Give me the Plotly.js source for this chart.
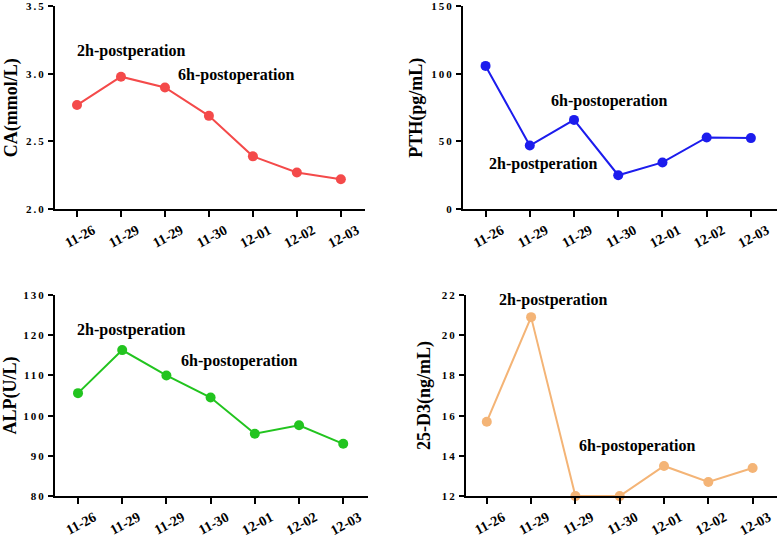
<!DOCTYPE html>
<html>
<head>
<meta charset="utf-8">
<script src="https://cdn.plot.ly/plotly-3.0.1.min.js"></script>
<style>
  html, body { margin: 0; padding: 0; background: #fff; }
  #chart { width: 777px; height: 541px; }
  .yaxislayer-above text { letter-spacing: 2px; }
</style>
</head>
<body>
<div id="chart"></div>
<script>
// sampling dates (11-29 appears twice: 2h and 6h after operation)
const dates = ['11-26', '11-29', '11-29', '11-30', '12-01', '12-02', '12-03'];
const xIdx = [0, 1, 2, 3, 4, 5, 6];

const caValues = [2.77, 2.98, 2.90, 2.69, 2.39, 2.27, 2.22];
const pthValues = [106, 47, 66, 25, 34.5, 53, 52.5];
const alpValues = [105.6, 116.3, 110, 104.5, 95.5, 97.6, 93];
const d3Values = [15.7, 20.9, 12, 12, 13.5, 12.7, 13.4];

const serif = 'Liberation Serif, Times New Roman, serif';

function trace(y, color, xa, ya){
    return {
        x: xIdx,
        y: y,
        xaxis: xa,
        yaxis: ya,
        type: 'scatter',
        mode: 'lines+markers',
        line: {color: color, width: 2},
        marker: {color: color, size: 10},
        cliponaxis: false,
        showlegend: false
    };
}

function xAxis(domain, anchor, range){
    return {
        domain: domain,
        anchor: anchor,
        range: range,
        tickvals: xIdx,
        ticktext: dates,
        tickangle: -28,
        ticklabelshift: 16,
        ticklabelstandoff: 0,
        ticklabeloverflow: 'allow',
        tickfont: {family: serif, size: 14, color: '#000', weight: 'bold'},
        showline: true, linecolor: '#000', linewidth: 2,
        ticks: 'outside', ticklen: 6, tickwidth: 2, tickcolor: '#000',
        showgrid: false, zeroline: false
    };
}

function yAxis(domain, anchor, range, dtick, title, fmt){
    return {
        domain: domain,
        anchor: anchor,
        range: range,
        dtick: dtick,
        tick0: range[0],
        tickformat: fmt,
        ticklabeloverflow: 'allow',
        tickfont: {family: serif, size: 11, color: '#000', weight: 'bold'},
        title: {text: title, font: {family: serif, size: 18, color: '#000', weight: 'bold'}, standoff: 10},
        showline: true, linecolor: '#000', linewidth: 2,
        ticks: 'outside', ticklen: 5, tickwidth: 2, tickcolor: '#000',
        showgrid: false, zeroline: false
    };
}

function note(text, x, y, xref, yref){
    return {
        text: text, x: x, y: y, xref: xref, yref: yref,
        xanchor: 'left', yanchor: 'middle', showarrow: false,
        font: {family: serif, size: 16, color: '#000', weight: 'bold'}
    };
}

const data = [
    trace(caValues, '#f44a4a', 'x', 'y'),
    trace(pthValues, '#1c1ced', 'x2', 'y2'),
    trace(alpValues, '#22c41f', 'x3', 'y3'),
    trace(d3Values, '#f4b476', 'x4', 'y4')
];

const layout = {
    width: 777,
    height: 541,
    margin: {l: 0, r: 0, t: 0, b: 0},
    paper_bgcolor: '#fff',
    plot_bgcolor: '#fff',
    xaxis: xAxis([0.0708, 0.4698], 'y', [-0.5, 6.55]),
    yaxis: yAxis([0.6137, 0.988], 'x', [2.0, 3.5], 0.5, 'CA(mmol/L)', '.1f'),
    xaxis2: xAxis([0.5959, 1.0], 'y2', [-0.51, 6.59]),
    yaxis2: yAxis([0.6137, 0.988], 'x2', [0, 150], 50, 'PTH(pg/mL)', 'd'),
    xaxis3: xAxis([0.0708, 0.4736], 'y3', [-0.52, 6.56]),
    yaxis3: yAxis([0.083, 0.4547], 'x3', [80, 130], 10, 'ALP(U/L)', 'd'),
    xaxis4: xAxis([0.5997, 1.0], 'y4', [-0.47, 6.55]),
    yaxis4: yAxis([0.083, 0.4547], 'x4', [12, 22], 2, '25-D3(ng/mL)', 'd'),
    annotations: [
        note('2h-postperation', -0.05, 3.17, 'x', 'y'),
        note('6h-postoperation', 2.25, 2.99, 'x', 'y'),
        note('6h-postoperation', 1.43, 80, 'x2', 'y2'),
        note('2h-postperation', 0.03, 33.5, 'x2', 'y2'),
        note('2h-postperation', -0.07, 121.2, 'x3', 'y3'),
        note('6h-postoperation', 2.29, 113.5, 'x3', 'y3'),
        note('2h-postperation', 0.23, 21.75, 'x4', 'y4'),
        note('6h-postoperation', 2.03, 14.51, 'x4', 'y4')
    ]
};

Plotly.newPlot('chart', data, layout, {displayModeBar: false, staticPlot: true});
</script>
</body>
</html>
